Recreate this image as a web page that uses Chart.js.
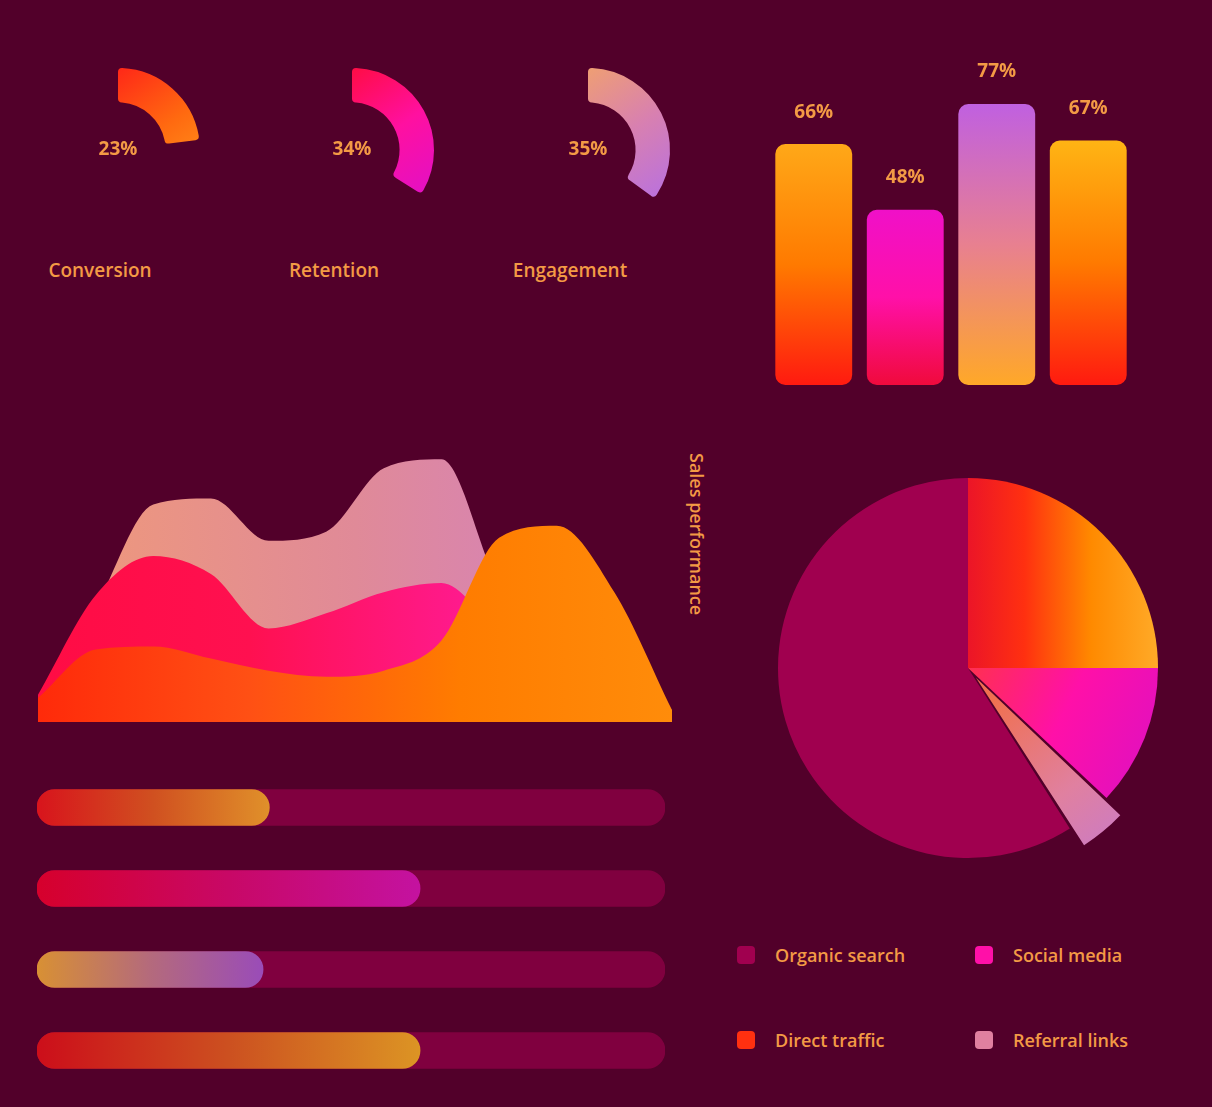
<!DOCTYPE html>
<html>
<head>
<meta charset="utf-8">
<script src="https://cdn.jsdelivr.net/npm/chart.js@4.4.1/dist/chart.umd.min.js"></script>
<style>
html,body{margin:0;padding:0;background:#52002a;width:1212px;height:1107px;overflow:hidden;font-family:"Open Sans","DejaVu Sans",sans-serif;}
canvas{position:absolute;}
.t{position:absolute;color:#f39a45;white-space:nowrap;line-height:1;}
.gv{font-size:19px;font-weight:700;transform:translate(-50%,-50%);}
.gl{font-size:19px;font-weight:600;transform:translate(-50%,-50%);}
.vt{font-size:18px;font-weight:600;writing-mode:vertical-rl;}
.lg{font-size:18px;font-weight:600;display:flex;align-items:center;transform:translateY(-50%);}
.lg i{display:inline-block;width:18px;height:18px;border-radius:4px;margin-right:20px;}
</style>
</head>
<body>
<canvas id="g0" width="200" height="200" style="left:18px;top:50px"></canvas>
<canvas id="g1" width="200" height="200" style="left:252px;top:50px"></canvas>
<canvas id="g2" width="200" height="200" style="left:488px;top:50px"></canvas>
<canvas id="bars" width="366" height="365" style="left:768px;top:20px"></canvas>
<canvas id="area" width="634" height="302" style="left:38px;top:420px"></canvas>
<canvas id="pie" width="460" height="460" style="left:738px;top:438px"></canvas>
<canvas id="prog" width="628" height="324" style="left:37px;top:767px"></canvas>
<div id="txt"></div>
<script>
// ---------- data ----------
const gaugeLabels = ['Conversion', 'Retention', 'Engagement'];
const gaugeValues = [23, 34, 35];
const gaugeMax = 100;

const barCategories = ['Q1', 'Q2', 'Q3', 'Q4'];
const barValues = [66, 48, 77, 67];

const areaLabels = ['Jan','Feb','Mar','Apr','May','Jun','Jul','Aug','Sep','Oct','Nov','Dec'];
const areaSeriesA = [8, 24, 25, 21, 17, 15, 17, 27, 61, 65, 43, 4];
const areaSeriesB = [9, 42, 55, 49, 31, 36, 43, 46, 30, 18, 8, 3];
const areaSeriesC = [6, 38, 72, 74, 60, 63, 84, 87, 45, 25, 12, 4];
const areaTitle = 'Sales performance';

const pieLabels = ['Direct traffic', 'Social media', 'Referral links', 'Organic search'];
const pieValues = [25, 12, 4, 59];
const legendOrder = [3, 1, 0, 2];

const progressLabels = ['Target A', 'Target B', 'Target C', 'Target D'];
const progressValues = [37, 61, 36, 61];
const progressMax = 100;

// ---------- styles ----------
const textColor = '#f39a45';
const gaugeStops = [
  ['#ff2418', '#ff6a10', '#ffa020'],
  ['#ff0c40', '#ff10a0', '#e010c8'],
  ['#f0a070', '#d880b0', '#b870e0']
];
const gaugeTrack = 'rgba(0,0,0,0)';
const barStops = [
  ['#ff1a10', '#ff7a00', '#ffa818'],
  ['#f00a3c', '#ff10a8', '#f010c8'],
  ['#ffa828', '#e88090', '#c060e0'],
  ['#ff1a10', '#ff7a00', '#ffb414']
];
const areaStops = {
  A: ['#ff2a0a', '#ff5014', '#ff7c00', '#ff8c0a'],
  B: ['#ff0c44', '#ff1050', '#ff1a8c', '#ff14a4'],
  C: ['#f09a78', '#e08a98', '#d07ec8']
};
const pieColors = {
  orange: ['#e8102c', '#ff3010', '#ff8a00', '#ffaa28'],
  magenta: ['#ff3050', '#ff10a8', '#e010c0'],
  lavender: ['#f07050', '#e080a0', '#c078d8'],
  maroon: '#a0004f'
};
const progStops = [
  ['#d8141c', '#d05020', '#e0902a'],
  ['#d6002c', '#c80866', '#c412a0'],
  ['#d89034', '#b46a7c', '#9a4cb8'],
  ['#cc0e1a', '#cc5020', '#dc9424']
];
const progTrack = '#80003f';

Chart.defaults.font.family = '"Open Sans","DejaVu Sans",sans-serif';
Chart.defaults.animation = false;
Chart.defaults.events = [];
Chart.defaults.plugins.legend.display = false;
Chart.defaults.plugins.tooltip.enabled = false;

function lin(ctx, x0, y0, x1, y1, stops) {
  const g = ctx.createLinearGradient(x0, y0, x1, y1);
  stops.forEach((c, i) => g.addColorStop(i / (stops.length - 1), c));
  return g;
}
function addText(cls, x, y, text) {
  const d = document.createElement('div');
  d.className = 't ' + cls;
  d.style.left = x + 'px';
  d.style.top = y + 'px';
  d.textContent = text;
  document.getElementById('txt').appendChild(d);
  return d;
}

// ---------- gauges ----------
const gaugeCenters = [118, 352, 588];
gaugeValues.forEach((v, i) => {
  new Chart(document.getElementById('g' + i), {
    type: 'doughnut',
    data: {
      labels: [gaugeLabels[i], ''],
      datasets: [{
        data: [v, gaugeMax - v],
        backgroundColor: (c) => {
          if (c.dataIndex === 1) return gaugeTrack;
          const a = c.chart.chartArea;
          if (!a) return gaugeStops[i][0];
          const cx = (a.left + a.right) / 2, cy = (a.top + a.bottom) / 2;
          return lin(c.chart.ctx, cx - 10, cy - 80, cx + 80, cy + 50, gaugeStops[i]);
        },
        borderWidth: 0,
        borderRadius: 4
      }]
    },
    options: { responsive: false, devicePixelRatio: 1, radius: 82, cutout: 58 }
  });
  addText('gv', gaugeCenters[i], 148, v + '%');
  addText('gl', gaugeCenters[i] - 18, 270, gaugeLabels[i]);
});

// ---------- bars ----------
const barValueLabels = {
  id: 'barValueLabels',
  afterDatasetsDraw(chart) {
    const ctx = chart.ctx;
    ctx.save();
    ctx.font = '700 19px "Open Sans"';
    ctx.fillStyle = textColor;
    ctx.textAlign = 'center';
    ctx.textBaseline = 'middle';
    chart.getDatasetMeta(0).data.forEach((el, i) => {
      ctx.fillText(barValues[i] + '%', el.x, el.y - 32);
    });
    ctx.restore();
  }
};
new Chart(document.getElementById('bars'), {
  type: 'bar',
  data: {
    labels: barCategories,
    datasets: [{
      data: barValues,
      backgroundColor: (c) => {
        const ch = c.chart;
        if (!ch.chartArea || c.dataIndex === undefined) return '#ff7a00';
        const y = ch.scales.y;
        return lin(ch.ctx, 0, y.getPixelForValue(0), 0, y.getPixelForValue(barValues[c.dataIndex]), barStops[c.dataIndex]);
      },
      borderRadius: 10,
      borderSkipped: false,
      barPercentage: 0.84,
      categoryPercentage: 1
    }]
  },
  options: {
    responsive: false, devicePixelRatio: 1,
    scales: { x: { display: false }, y: { display: false, min: 0, max: 100 } }
  },
  plugins: [barValueLabels]
});

// ---------- area ----------
function areaFill(key) {
  return (c) => {
    const a = c.chart.chartArea;
    if (!a) return areaStops[key][0];
    return lin(c.chart.ctx, a.left, 0, a.right, 0, areaStops[key]);
  };
}
new Chart(document.getElementById('area'), {
  type: 'line',
  data: {
    labels: areaLabels,
    datasets: [
      { label: 'A', data: areaSeriesA, fill: 'origin', backgroundColor: areaFill('A'), borderWidth: 0, pointRadius: 0, cubicInterpolationMode: 'monotone', order: 0 },
      { label: 'B', data: areaSeriesB, fill: 'origin', backgroundColor: areaFill('B'), borderWidth: 0, pointRadius: 0, cubicInterpolationMode: 'monotone', order: 1 },
      { label: 'C', data: areaSeriesC, fill: 'origin', backgroundColor: areaFill('C'), borderWidth: 0, pointRadius: 0, cubicInterpolationMode: 'monotone', order: 2 }
    ]
  },
  options: {
    responsive: false, devicePixelRatio: 1,
    scales: { x: { display: false }, y: { display: false, min: 0, max: 100 } }
  }
});
addText('vt', 688, 453, areaTitle);

// ---------- pie ----------
const pieKeys = ['orange', 'magenta', 'lavender', 'maroon'];
new Chart(document.getElementById('pie'), {
  type: 'pie',
  data: {
    labels: pieLabels,
    datasets: [{
      data: pieValues,
      offset: [0, 0, 50, 0],
      borderWidth: 0,
      backgroundColor: (c) => {
        const k = pieKeys[c.dataIndex];
        const a = c.chart.chartArea;
        if (k === 'maroon' || !a) return pieColors.maroon;
        const cx = (a.left + a.right) / 2, cy = (a.top + a.bottom) / 2, r = 190;
        const ctx = c.chart.ctx;
        if (k === 'orange') return lin(ctx, cx - 10, 0, cx + r, 0, pieColors.orange);
        if (k === 'magenta') return lin(ctx, cx, cy, cx + r, cy + r * 0.5, pieColors.magenta);
        return lin(ctx, cx + 20, cy + 20, cx + 170, cy + 200, pieColors.lavender);
      }
    }]
  },
  options: { responsive: false, devicePixelRatio: 1, radius: 190 }
});
const legendPos = [[737, 955], [975, 955], [737, 1040], [975, 1040]];
legendOrder.forEach((idx, j) => {
  const d = addText('lg', legendPos[j][0], legendPos[j][1], '');
  const sw = document.createElement('i');
  const k = pieKeys[idx];
  sw.style.background = k === 'maroon' ? pieColors.maroon : pieColors[k][1];
  d.appendChild(sw);
  d.appendChild(document.createTextNode(pieLabels[idx]));
});

// ---------- progress bars ----------
new Chart(document.getElementById('prog'), {
  type: 'bar',
  data: {
    labels: progressLabels,
    datasets: [
      {
        data: progressValues,
        backgroundColor: (c) => {
          const ch = c.chart;
          if (!ch.chartArea || c.dataIndex === undefined) return progStops[0][0];
          const x = ch.scales.x;
          return lin(ch.ctx, x.getPixelForValue(0), 0, x.getPixelForValue(progressValues[c.dataIndex]), 0, progStops[c.dataIndex]);
        },
        borderRadius: 18, borderSkipped: false, barThickness: 36, grouped: false, order: 0
      },
      {
        data: progressLabels.map(() => progressMax),
        backgroundColor: progTrack,
        borderRadius: 18, borderSkipped: false, barThickness: 36, grouped: false, order: 1
      }
    ]
  },
  options: {
    indexAxis: 'y', responsive: false, devicePixelRatio: 1,
    scales: { x: { display: false, min: 0, max: progressMax }, y: { display: false } }
  }
});
</script>
</body>
</html>
